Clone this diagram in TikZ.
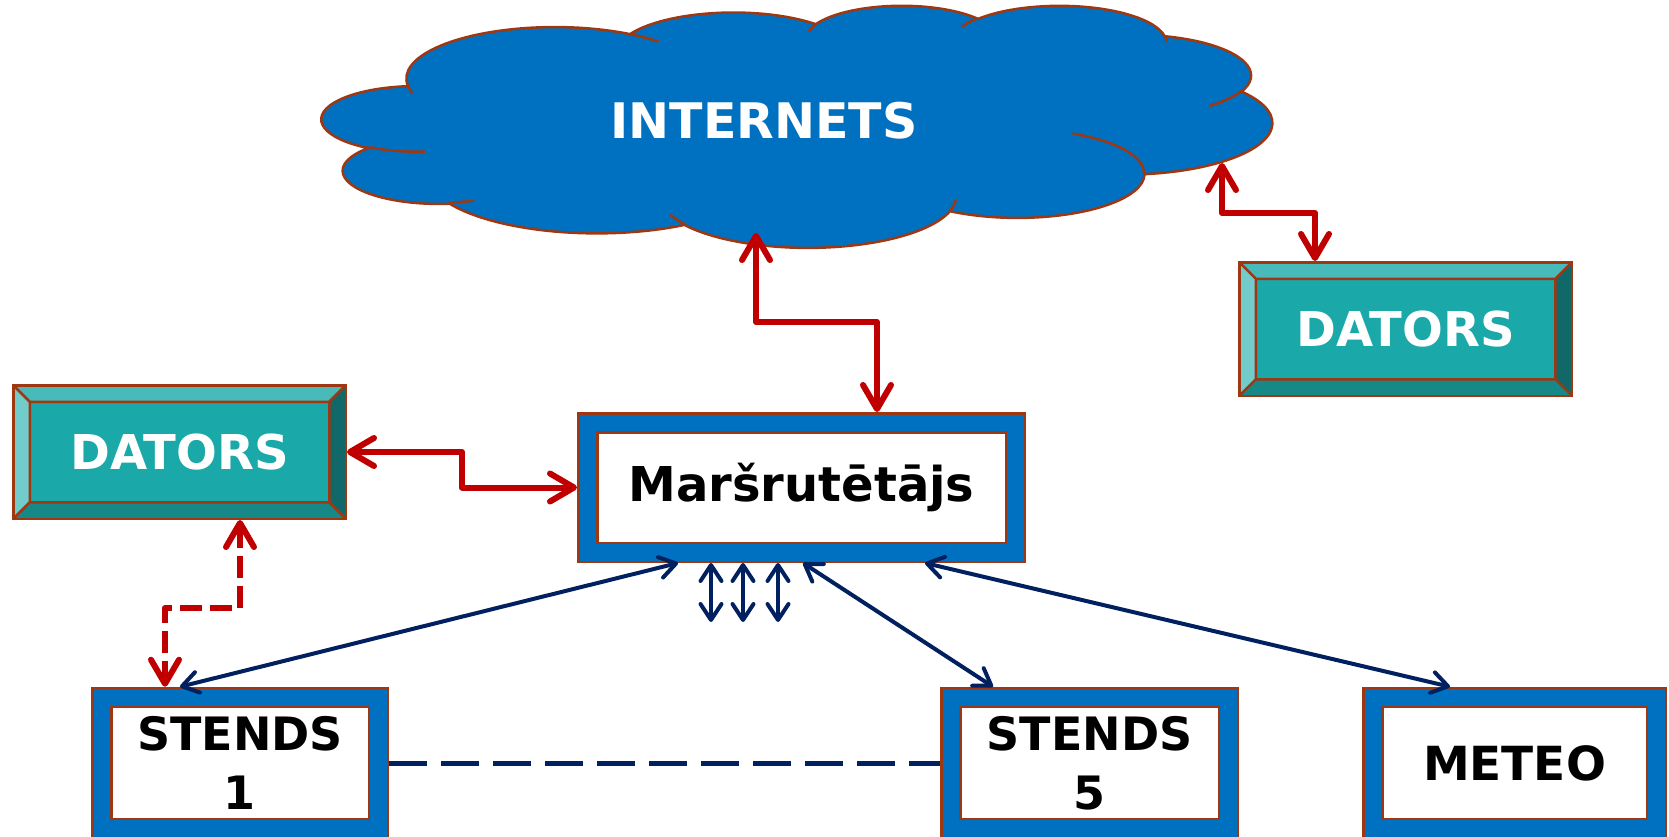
\documentclass[tikz,border=0pt]{standalone}
\usepackage{fontspec}
\setmainfont{DejaVu Sans}
\usetikzlibrary{arrows.meta, positioning}

\definecolor{frameblue}{RGB}{0,112,192}
\definecolor{brd}{RGB}{158,56,18}
\definecolor{tealM}{RGB}{26,168,168}
\definecolor{tealT}{RGB}{72,186,186}
\definecolor{tealL}{RGB}{115,204,204}
\definecolor{tealR}{RGB}{16,104,104}
\definecolor{tealB}{RGB}{22,136,136}
\definecolor{linkred}{RGB}{192,0,0}
\definecolor{linknavy}{RGB}{0,32,96}

\newcommand{\cloudarc}[4]{arc[start angle={atan2((#1)*sin(#3),(#2)*cos(#3))},
  delta angle={mod(atan2((#1)*sin((#3)+(#4)),(#2)*cos((#3)+(#4)))-atan2((#1)*sin(#3),(#2)*cos(#3))+720,360)},
  x radius=#1, y radius=#2]}

\begin{document}
\begin{tikzpicture}[x=1pt, y=-1pt,
framed node/.style={
rectangle,
draw=brd,
line width=2.5pt,
fill=frameblue,
minimum height=150pt,
align=center,
font=\bfseries\fontsize{47}{59}\selectfont,
path picture={
\draw[brd, line width=2.5pt, fill=white]
  ([shift={(19pt,-19pt)}]path picture bounding box.north west) rectangle
  ([shift={(-19pt,19pt)}]path picture bounding box.south east);
}
},
pc node/.style={
rectangle,
draw=brd,
line width=2.5pt,
fill=tealM,
text=white,
minimum width=332.5pt,
minimum height=133.5pt,
font=\bfseries\fontsize{48}{58}\selectfont,
path picture={
\path (path picture bounding box.north west) coordinate (bo1)
      (path picture bounding box.south east) coordinate (bo2);
\path ([shift={(16.5pt,-16.5pt)}]bo1) coordinate (bi1)
      ([shift={(-16.5pt,16.5pt)}]bo2) coordinate (bi2);
\fill[tealT] (bo1) -- (bo1 -| bo2) -- (bi1 -| bi2) -- (bi1) -- cycle;
\fill[tealB] (bo2 -| bo1) -- (bo2) -- (bi2) -- (bi2 -| bi1) -- cycle;
\fill[tealL] (bo1) -- (bi1) -- (bi2 -| bi1) -- (bo2 -| bo1) -- cycle;
\fill[tealR] (bo1 -| bo2) -- (bo2) -- (bi2) -- (bi1 -| bi2) -- cycle;
\draw[brd, line width=2.5pt] (bi1) rectangle (bi2)
  (bo1) -- (bi1) (bo1 -| bo2) -- (bi1 -| bi2)
  (bo2) -- (bi2) (bo2 -| bo1) -- (bi2 -| bi1);
}
},
cloud line/.style={draw=brd, line width=2.5pt},
red link/.style={draw=linkred, line width=6pt, line join=round,
  >={Straight Barb[length=24pt, width=28pt, round]}, <->},
navy link/.style={draw=linknavy, line width=4pt,
  >={Straight Barb[length=16pt, width=21pt, round]}, <->}
]

\useasboundingbox (0,0) rectangle (1669,837);

\begin{scope}[shift={(322,5)}, x=1pt, y=1pt, xscale=0.21991, yscale=-0.056019]
\path[cloud line, fill=frameblue] (390,1437)
  \cloudarc{675.3}{919.0}{-190.4875}{123.7805}
  \cloudarc{533.3}{726.7}{-144.1024}{89.9452}
  \cloudarc{436.5}{594.5}{-145.8079}{99.7230}
  \cloudarc{485.7}{659.5}{-130.9861}{117.2417}
  \cloudarc{533.3}{727.3}{-78.7089}{109.0269}
  \cloudarc{677.5}{922.0}{-46.2673}{130.2690}
  \cloudarc{578.5}{786.7}{0.6250}{114.0333}
  \cloudarc{675.2}{921.5}{22.4516}{115.1726}
  \cloudarc{772.0}{1054.3}{66.2426}{75.7110}
  \cloudarc{436.0}{591.8}{-274.9421}{146.7356}
  \cloudarc{434.5}{594.5}{-246.8285}{152.5189} -- cycle;
\path[cloud line]
  (469.3,2617.7) \cloudarc{434.5}{594.5}{86.7420}{26.4295}
  (692.8,3489.9) \cloudarc{436.0}{591.8}{73.6105}{11.4475}
  (1647.8,3909.0) \cloudarc{675.2}{921.5}{137.6242}{14.0811}
  (2882.7,3475.1) \cloudarc{675.2}{921.5}{6.4533}{15.9984}
  (3412.9,2295.4) \cloudarc{578.5}{786.7}{-70.2924}{70.9174}
  (4179.8,1535.4) \cloudarc{533.3}{727.3}{30.3180}{27.7515}
  (3832.4,542.6) \cloudarc{485.7}{659.5}{-13.7443}{14.8589}
  (2907.8,395.2) \cloudarc{485.7}{659.5}{-149.1815}{18.1954}
  (2214.1,472.0) \cloudarc{436.5}{594.5}{-163.4943}{17.6864}
  (1400.0,519.2) \cloudarc{675.3}{919.0}{-66.7070}{12.3194}
  (412.7,1578.9) \cloudarc{675.3}{919.0}{157.6544}{11.8582};
\end{scope}

\node[text=white, font=\bfseries\fontsize{49}{58}\selectfont] (inet) at (764,121) {INTERNETS};
\coordinate (netS) at (756,233);
\coordinate (netE) at (1222,163);

\node[framed node, minimum width=446.5pt, minimum height=148.5pt, font=\bfseries\fontsize{48}{58}\selectfont] (router) at (801.5,487.5) {Maršrutētājs};
\node[pc node] (pcL) at (179.5,452) {DATORS};
\node[pc node] (pcR) at (1405.5,329) {DATORS};

\node[framed node, minimum width=295.5pt, font=\bfseries\fontsize{46}{59}\selectfont] (s1) at (240,763) {STENDS\\1};
\node[framed node, minimum width=296.5pt, font=\bfseries\fontsize{46}{59}\selectfont] (s5) [right=551pt of s1] {STENDS\\5};
\node[framed node, minimum width=302.5pt] (met) [right=123pt of s5] {METEO};

\draw[red link] (netS) -- ++(0,89) -| ([xshift=75.5pt]router.north);
\draw[red link] (netE) -- ++(0,50) -| ([xshift=-90.5pt]pcR.north);
\draw[red link] (pcL.east) -- ++(115,0) |- (router.west);
\draw[red link, dash pattern=on 22pt off 8pt] ([xshift=60.5pt]pcL.south) -- ++(0,88) -| ([xshift=-75pt]s1.north);

\draw[navy link] ([xshift=-123.5pt]router.south) -- ([xshift=-60pt]s1.north);
\draw[navy link] ([xshift=1.5pt]router.south) -- ([xshift=-96.5pt]s5.north);
\draw[navy link] ([xshift=123.5pt]router.south) -- ([xshift=-64.5pt]met.north);

\draw[navy link] ([xshift=-90.5pt]router.south) -- ++(0,59);
\draw[navy link] ([xshift=-58.5pt]router.south) -- ++(0,59);
\draw[navy link] ([xshift=-23.5pt]router.south) -- ++(0,59);

\draw[draw=linknavy, line width=5pt, dash pattern=on 38pt off 14pt] (s1.east) -- (s5.west);

\end{tikzpicture}
\end{document}
